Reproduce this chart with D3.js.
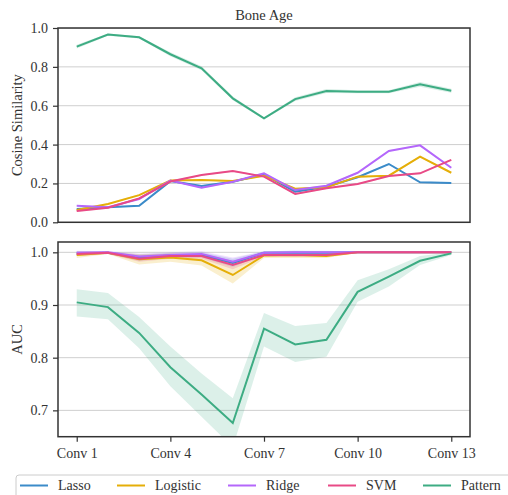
<!DOCTYPE html>
<html><head><meta charset="utf-8">
<script src="https://cdn.jsdelivr.net/npm/d3@7"></script>
<style>
body{margin:0;background:#fff;}
</style></head>
<body><svg id="c" width="508" height="495"></svg>
<script>
const layers = [1,2,3,4,5,6,7,8,9,10,11,12,13];
const tickLayers = [1,4,7,10,13];
const tickLabels = ["Conv 1","Conv 4","Conv 7","Conv 10","Conv 13"];
const seriesNames = ["Lasso","Logistic","Ridge","SVM","Pattern"];
const colors = ["#3b8bc9","#e5ae08","#b467fb","#e84a86","#3dac83"];

// Top panel: cosine similarity
const cosLasso    = [0.068,0.077,0.085,0.212,0.187,0.209,0.247,0.158,0.183,0.232,0.300,0.206,0.202];
const cosLogistic = [0.063,0.094,0.140,0.215,0.218,0.212,0.240,0.173,0.180,0.235,0.240,0.338,0.255];
const cosRidge    = [0.085,0.077,0.120,0.215,0.178,0.209,0.252,0.166,0.188,0.255,0.367,0.396,0.281];
const cosSVM      = [0.058,0.075,0.123,0.210,0.243,0.264,0.235,0.146,0.175,0.197,0.238,0.252,0.321];
const cosPattern  = [0.904,0.966,0.952,0.865,0.793,0.638,0.535,0.634,0.676,0.672,0.672,0.710,0.677];
const cosErr      = [0.004,0.004,0.004,0.004,0.004,0.004,0.004,0.004,0.004,0.004,0.004,0.004,0.004];
const cosPatErr   = [0.010,0.006,0.006,0.010,0.010,0.010,0.006,0.010,0.010,0.008,0.008,0.012,0.010];

// Bottom panel: AUC
const aucLasso    = [0.998,0.999,0.990,0.994,0.995,0.980,0.999,0.999,0.999,1.000,1.000,1.000,1.000];
const aucLogistic = [0.995,0.999,0.987,0.990,0.985,0.957,0.994,0.995,0.993,1.000,1.000,1.000,1.000];
const aucRidge    = [0.999,1.000,0.992,0.995,0.997,0.982,0.999,1.000,1.000,1.000,1.000,1.000,1.000];
const aucSVM      = [0.997,0.999,0.988,0.993,0.993,0.976,0.995,0.995,0.995,1.000,1.000,1.000,1.000];
const aucPattern  = [0.905,0.896,0.847,0.782,0.730,0.676,0.855,0.825,0.834,0.925,0.954,0.984,0.998];
const aucErr      = [0.004,0.002,0.006,0.005,0.005,0.008,0.003,0.004,0.003,0.001,0.001,0.001,0.001];
const aucLogErr   = [0.006,0.002,0.010,0.008,0.010,0.016,0.005,0.006,0.004,0.001,0.001,0.001,0.001];
const aucPatLo    = [0.878,0.873,0.818,0.746,0.688,0.630,0.821,0.792,0.802,0.906,0.935,0.976,0.995];
const aucPatHi    = [0.930,0.923,0.877,0.821,0.770,0.723,0.885,0.860,0.866,0.947,0.968,0.993,1.000];

const FONT = "'Liberation Serif', 'DejaVu Serif', serif";
const svg = d3.select("#c").style("font-family", FONT);
const L = 58, R = 470;
const x = d3.scaleLinear().domain([0.4, 13.6]).range([L, R]);

const yTop = d3.scaleLinear().domain([0, 1]).range([222.3, 28]);
const yBot = d3.scaleLinear().domain([0.65, 1.0196]).range([436.7, 242]);

function styleText(sel, size) {
  sel.attr("font-size", size).attr("fill", "#333").attr("font-family", null).style("font-family", FONT);
}

function panel(y, ticks, fmt, series, bands, yTitle, clipId) {
  const [y0, y1] = y.range();
  svg.append("clipPath").attr("id", clipId).append("rect")
    .attr("x", L).attr("y", y1).attr("width", R - L).attr("height", y0 - y1);
  const g = svg.append("g").attr("clip-path", `url(#${clipId})`);
  g.append("g").selectAll("line").data(ticks).join("line")
    .attr("x1", L).attr("x2", R).attr("y1", d => y(d)).attr("y2", d => y(d))
    .attr("stroke", "#cfcfcf").attr("stroke-width", 1);
  bands.forEach(b => {
    const area = d3.area().x((d, i) => x(layers[i])).y0(d => y(d[0])).y1(d => y(d[1]));
    g.append("path").datum(b.lo.map((v, i) => [v, b.hi[i]]))
      .attr("d", area).attr("fill", b.color).attr("fill-opacity", b.op);
  });
  const line = d3.line().x((d, i) => x(layers[i])).y(d => y(d));
  series.forEach(s => {
    g.append("path").datum(s.v).attr("d", line).attr("fill", "none")
      .attr("stroke", s.color).attr("stroke-width", 2);
  });
  const ax = svg.append("g").attr("transform", `translate(${L},0)`)
    .call(d3.axisLeft(y).tickValues(ticks).tickFormat(fmt).tickSize(5).tickPadding(5));
  ax.attr("font-family", null);
  ax.select(".domain").remove();
  ax.selectAll("line").attr("stroke", "#333").attr("stroke-width", 1.2);
  styleText(ax.selectAll("text"), 14);
  svg.append("rect").attr("x", L).attr("y", y1).attr("width", R - L).attr("height", y0 - y1)
    .attr("fill", "none").attr("stroke", "#333").attr("stroke-width", 1.5);
  styleText(svg.append("text").attr("transform", `translate(17,${(y0 + y1) / 2}) rotate(-90)`)
    .attr("text-anchor", "middle").attr("dominant-baseline", "central").text(yTitle), 14.5);
}

const topSeries = [cosLasso, cosLogistic, cosRidge, cosSVM, cosPattern].map((v, i) => ({v, color: colors[i]}));
const topBands = topSeries.map((s, i) => {
  const e = i === 4 ? cosPatErr : cosErr;
  return {lo: s.v.map((d, j) => d - e[j]), hi: s.v.map((d, j) => d + e[j]), color: s.color, op: 0.2};
});
panel(yTop, [0, 0.2, 0.4, 0.6, 0.8, 1.0], d3.format(".1f"), topSeries, topBands, "Cosine Similarity", "clipTop");

const botSeries = [aucLasso, aucLogistic, aucRidge, aucSVM, aucPattern].map((v, i) => ({v, color: colors[i]}));
const botBands = [aucLasso, aucLogistic, aucRidge, aucSVM].map((v, i) => {
  const e = i === 1 ? aucLogErr : aucErr;
  return {lo: v.map((d, j) => d - e[j]), hi: v.map((d, j) => Math.min(1.003, d + e[j])), color: colors[i], op: 0.2};
});
botBands.push({lo: aucPatLo, hi: aucPatHi, color: colors[4], op: 0.18});
panel(yBot, [0.7, 0.8, 0.9, 1.0], d3.format(".1f"), botSeries, botBands, "AUC", "clipBot");

const xa = svg.append("g").attr("transform", `translate(0,436.7)`)
  .call(d3.axisBottom(x).tickValues(tickLayers).tickFormat((d, i) => tickLabels[i]).tickSize(5).tickPadding(6));
xa.attr("font-family", null);
xa.select(".domain").remove();
xa.selectAll("line").attr("stroke", "#333").attr("stroke-width", 1.2);
styleText(xa.selectAll("text"), 14);

styleText(svg.append("text").attr("x", (L + R) / 2).attr("y", 20).attr("text-anchor", "middle")
  .text("Bone Age"), 14.5);

const lg = svg.append("g");
lg.append("rect").attr("x", 16).attr("y", 475).attr("width", 520).attr("height", 40).attr("rx", 3)
  .attr("fill", "#fff").attr("stroke", "#ccc").attr("stroke-width", 1);
const legX = [20, 117, 228, 328, 423];
seriesNames.forEach((n, i) => {
  lg.append("line").attr("x1", legX[i]).attr("x2", legX[i] + 28).attr("y1", 485.5).attr("y2", 485.5)
    .attr("stroke", colors[i]).attr("stroke-width", 2);
  styleText(lg.append("text").attr("x", legX[i] + 38).attr("y", 490).text(n), 14);
});
</script></body></html>
